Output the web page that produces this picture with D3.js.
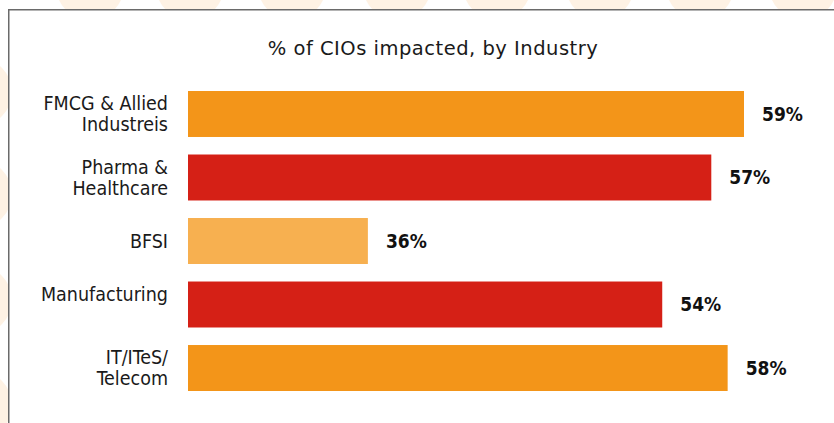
<!DOCTYPE html>
<html>
<head>
<meta charset="utf-8">
<script src="https://cdn.jsdelivr.net/npm/d3@7"></script>
<style>
  html, body { margin: 0; padding: 0; background: #ffffff; }
  svg { display: block; }
</style>
</head>
<body>
<svg id="chart" width="834" height="423"></svg>
<script>
// Industries (line breaks split the axis labels), share of CIOs impacted, bar colours
const industries = ["FMCG & Allied\nIndustreis", "Pharma &\nHealthcare", "BFSI", "Manufacturing\n ", "IT/ITeS/\nTelecom"];
const impactedPct = [59, 57, 36, 54, 58];
const barColors = ["#F39519", "#D52016", "#F7B050", "#D52016", "#F39519"];
const chartTitle = "% of CIOs impacted, by Industry";

const W = 834, H = 423;
const svg = d3.select("#chart");

// decorative cream dots behind the card
const deco = svg.append("g").attr("fill", "#FEF2E4");
const topDots = [90, 190, 292, 397, 497, 600, 700, 803];
deco.selectAll("circle.top").data(topDots).join("circle")
  .attr("class", "top").attr("cx", d => d).attr("cy", -14).attr("r", 34);
const leftDots = [92, 194, 300, 405];
deco.selectAll("circle.left").data(leftDots).join("circle")
  .attr("class", "left").attr("cx", -22).attr("cy", d => d).attr("r", 34);

// white card with a grey edge, running off the right and bottom
svg.append("rect")
  .attr("x", 8.75).attr("y", 9.75)
  .attr("width", W + 20).attr("height", H + 20)
  .attr("fill", "#ffffff")
  .attr("stroke", "#6a6a6a")
  .attr("stroke-width", 1.5);

// title
svg.append("text")
  .attr("x", 433).attr("y", 55)
  .attr("text-anchor", "middle")
  .attr("font-family", "'DejaVu Sans', sans-serif")
  .attr("font-size", 19.5)
  .attr("letter-spacing", 0.5)
  .attr("fill", "#1a1a1a")
  .text(chartTitle);

// scales: the value axis starts at 25%
const x = d3.scaleLinear().domain([25, 59]).range([188, 744]);
const y = d3.scaleBand().domain(industries).range([91, 391]).paddingInner(0.276).paddingOuter(0);

const rows = industries.map((name, i) => ({ name, value: impactedPct[i], color: barColors[i] }));

// bars
svg.append("g").selectAll("rect").data(rows).join("rect")
  .attr("x", x(25))
  .attr("y", d => y(d.name))
  .attr("width", d => x(d.value) - x(25))
  .attr("height", y.bandwidth())
  .attr("fill", d => d.color);

// category axis (labels only)
const labelFont = "'DejaVu Sans Condensed', 'DejaVu Sans', sans-serif";
const yAxis = d3.axisLeft(y).tickSize(0).tickPadding(0).tickFormat(() => "");
const axisG = svg.append("g").attr("transform", "translate(168,0)").call(yAxis);
axisG.select(".domain").remove();
const lineH = 21;
axisG.selectAll(".tick text").each(function(d) {
  const lines = d.split("\n");
  const t = d3.select(this)
    .attr("font-family", labelFont)
    .attr("font-size", 19.5)
    .attr("fill", "#1a1a1a")
    .attr("text-anchor", "end")
    .attr("x", 0)
    .attr("dy", null)
    .attr("y", -(lines.length - 1) * lineH / 2);
  t.text(null);
  lines.forEach((ln, k) => {
    t.append("tspan")
      .attr("x", 0)
      .attr("dy", k === 0 ? "0.35em" : lineH)
      .text(ln);
  });
});

// value labels
svg.append("g").selectAll("text").data(rows).join("text")
  .attr("x", d => x(d.value) + 18)
  .attr("y", d => y(d.name) + y.bandwidth() / 2)
  .attr("dy", "0.36em")
  .attr("font-family", labelFont)
  .attr("font-weight", "bold")
  .attr("font-size", 19)
  .attr("fill", "#111111")
  .text(d => d.value + "%");
</script>
</body>
</html>
